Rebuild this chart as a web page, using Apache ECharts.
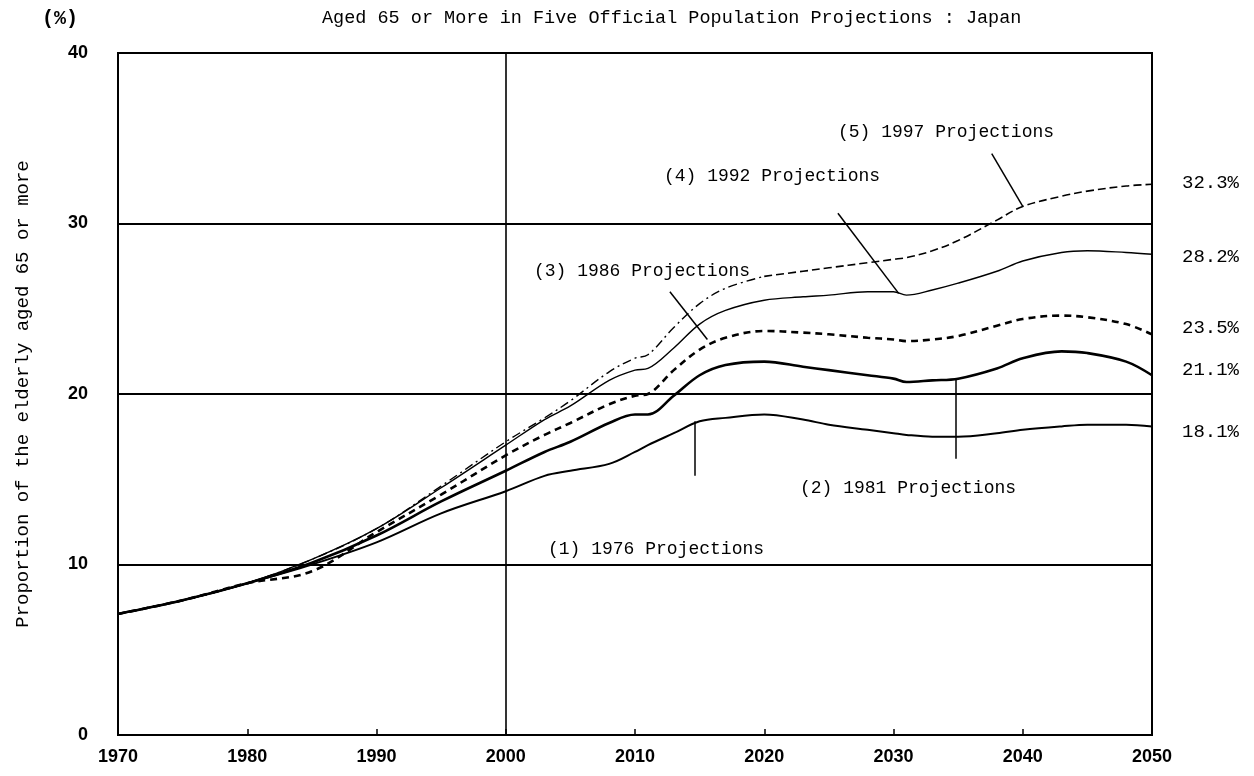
<!DOCTYPE html>
<html>
<head>
<meta charset="utf-8">
<title>Proportion of the elderly aged 65 or more : Japan</title>
<script src="https://cdn.jsdelivr.net/npm/echarts@6/dist/echarts.min.js"></script>
<style>
html, body { margin: 0; padding: 0; background: #fff; }
#chart { width: 1254px; height: 776px; }
</style>
</head>
<body>
<div id="chart"></div>
<script>
// 年份（所有投影共用）
const years = [1970, 1975, 1980, 1985, 1990, 1995, 2000, 2003, 2005, 2008, 2010, 2011, 2013, 2015, 2017,
    2020, 2023, 2025, 2028, 2030, 2031, 2033, 2035, 2038, 2040, 2043, 2045, 2048, 2050];

// 各次推计的老年人口比例 (%)
const proj1976 = [7.1, 7.9, 8.9, 10.0, 11.3, 13.0, 14.3, 15.2, 15.5, 15.9, 16.6, 17.0, 17.7, 18.4, 18.6,
    18.8, 18.5, 18.2, 17.9, 17.7, 17.6, 17.5, 17.5, 17.7, 17.9, 18.1, 18.2, 18.2, 18.1];
const proj1981 = [7.1, 7.9, 8.9, 10.1, 11.7, 13.7, 15.5, 16.6, 17.2, 18.3, 18.8, 18.8, 19.9, 21.1, 21.7,
    21.9, 21.6, 21.4, 21.1, 20.9, 20.7, 20.8, 20.9, 21.5, 22.1, 22.5, 22.4, 21.9, 21.1];
const proj1986 = [7.1, 7.9, 8.9, 9.6, 11.9, 14.1, 16.4, 17.6, 18.3, 19.4, 19.9, 20.0, 21.4, 22.6, 23.3,
    23.7, 23.6, 23.5, 23.3, 23.2, 23.1, 23.2, 23.4, 24.0, 24.4, 24.6, 24.5, 24.1, 23.5];
const proj1992 = [7.1, 7.9, 8.9, 10.3, 12.1, 14.5, 17.0, 18.5, 19.3, 20.8, 21.4, 21.5, 22.7, 24.1, 24.9,
    25.5, 25.7, 25.8, 26.0, 26.0, 25.8, 26.1, 26.5, 27.2, 27.8, 28.3, 28.4, 28.3, 28.2];
const proj1997 = [7.1, 7.9, 8.9, 10.3, 12.1, 14.6, 17.2, 18.6, 19.6, 21.3, 22.1, 22.3, 23.9, 25.3, 26.2,
    26.9, 27.2, 27.4, 27.7, 27.9, 28.0, 28.4, 29.0, 30.2, 31.0, 31.6, 31.9, 32.2, 32.3];

const seriesNames = ['(1) 1976 Projections', '(2) 1981 Projections', '(3) 1986 Projections',
    '(4) 1992 Projections', '(5) 1997 Projections'];
const endLabels = ['32.3%', '28.2%', '23.5%', '21.1%', '18.1%'];
const xTicks = [1970, 1980, 1990, 2000, 2010, 2020, 2030, 2040, 2050];

// 引出线（数据坐标）
const leaderLines = [
    [[2037.6, 34.1], [2040.0, 31.0]],
    [[2025.7, 30.6], [2030.4, 25.9]],
    [[2012.7, 26.0], [2015.6, 23.2]],
    [[2034.8, 20.9], [2034.8, 16.2]],
    [[2014.6, 18.4], [2014.6, 15.2]]
];

const mono = '"Liberation Mono", "DejaVu Sans Mono", monospace';
const chart = echarts.init(document.getElementById('chart'));

function pairs(vals, from, to) {
    return years.slice(from, to).map((y, i) => [y, vals[from + i]]);
}

function lineSeries(name, data, width, type, z) {
    return {
        name: name,
        type: 'line',
        data: data,
        smooth: 0.35,
        symbol: 'none',
        z: z,
        lineStyle: { color: '#000', width: width, type: type }
    };
}

const split = years.indexOf(2020);

const series = [
    lineSeries(seriesNames[0], pairs(proj1976, 0), 2, 'solid', 5),
    lineSeries(seriesNames[1], pairs(proj1981, 0), 2.6, 'solid', 5),
    lineSeries(seriesNames[2], pairs(proj1986, 0), 2.6, [7, 5], 4),
    lineSeries(seriesNames[3], pairs(proj1992, 0), 1.4, 'solid', 4),
    lineSeries(seriesNames[4], pairs(proj1997, 0, split + 1), 1.4, [9, 4, 2, 4], 3),
    lineSeries(seriesNames[4], pairs(proj1997, split), 1.6, [8, 4], 3)
];

// 2000年竖线和引出线
series[0].markLine = {
    silent: true,
    symbol: 'none',
    label: { show: false },
    lineStyle: { color: '#000', width: 1.6, type: 'solid' },
    data: [{ xAxis: 2000 }].concat(leaderLines.map(l => [
        { coord: l[0], lineStyle: { width: 1.5 } },
        { coord: l[1] }
    ]))
};

function text(str, left, top, size, extra) {
    return {
        type: 'text',
        left: left,
        top: top,
        style: Object.assign({ text: str, font: size + 'px ' + mono, fill: '#000' }, extra || {})
    };
}

const graphics = [
    text('(%)', 42, 9, 20, { font: 'bold 20px ' + mono }),
    text('Aged 65 or More in Five Official Population Projections : Japan', 322, 9, 18.5),
    text(seriesNames[4], 838, 123, 18),
    text(seriesNames[3], 664, 167, 18),
    text(seriesNames[2], 534, 262, 18),
    text(seriesNames[1], 800, 479, 18),
    text(seriesNames[0], 548, 540, 18)
];
const endTops = [173, 247, 318, 360, 422];
endLabels.forEach((s, i) => graphics.push(text(s, 1182, endTops[i], 19)));

const option = {
    animation: false,
    grid: {
        left: 118,
        right: 102,
        top: 53,
        bottom: 41,
        show: true,
        borderColor: '#000',
        borderWidth: 2
    },
    xAxis: {
        type: 'value',
        min: 1970,
        max: 2050,
        interval: 10,
        axisLine: { show: true, lineStyle: { color: '#000', width: 2 } },
        axisTick: { show: true, inside: true, length: 6, lineStyle: { color: '#000', width: 1.5 } },
        axisLabel: {
            color: '#000',
            fontSize: 18,
            fontWeight: 'bold',
            fontFamily: '"Liberation Sans", sans-serif',
            margin: 13,
            formatter: v => xTicks.includes(v) ? String(v) : ''
        },
        splitLine: { show: false }
    },
    yAxis: {
        type: 'value',
        min: 0,
        max: 40,
        interval: 10,
        name: 'Proportion of the elderly aged 65 or more',
        nameLocation: 'middle',
        nameRotate: 90,
        nameGap: 86,
        nameTextStyle: { color: '#000', fontSize: 19, fontFamily: mono },
        axisLine: { show: true, lineStyle: { color: '#000', width: 2 } },
        axisTick: { show: false },
        axisLabel: {
            color: '#000',
            fontSize: 18,
            fontWeight: 'bold',
            fontFamily: '"Liberation Sans", sans-serif',
            margin: 30
        },
        splitLine: { show: true, lineStyle: { color: '#000', width: 2 } }
    },
    graphic: graphics,
    series: series
};

chart.setOption(option);
</script>
</body>
</html>
